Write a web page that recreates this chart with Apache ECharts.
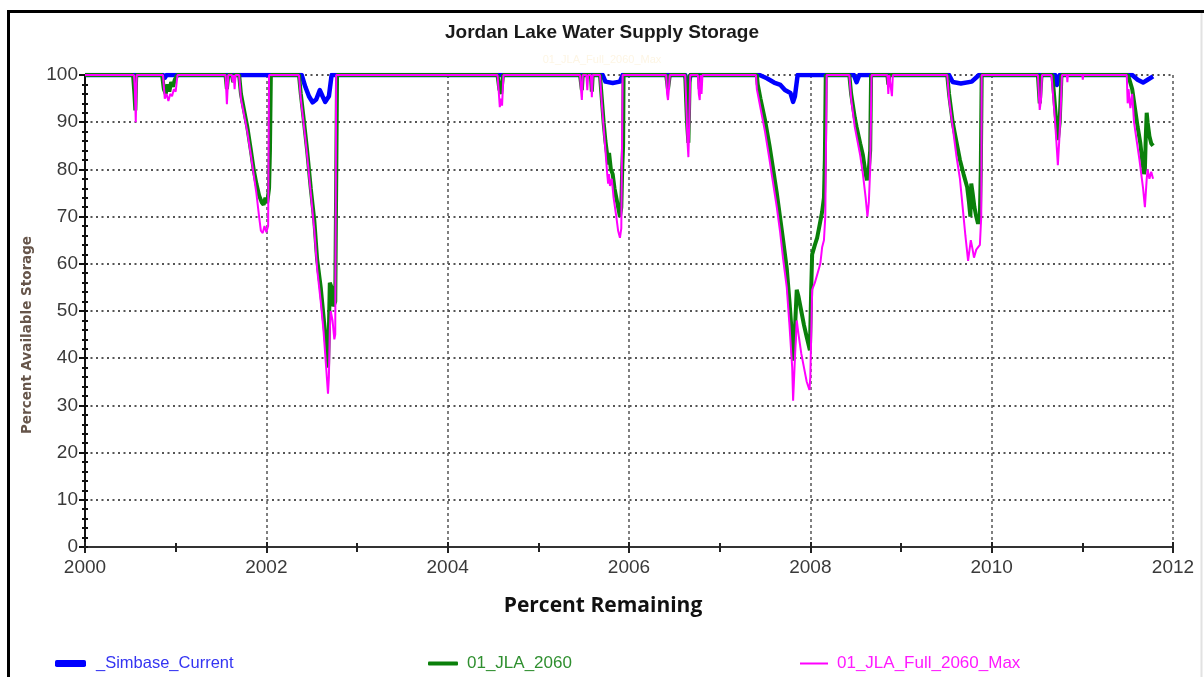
<!DOCTYPE html>
<html>
<head>
<meta charset="utf-8">
<title>Jordan Lake Water Supply Storage</title>
<script src="https://cdn.jsdelivr.net/npm/echarts@6/dist/echarts.min.js"></script>
<style>
  html, body { margin: 0; padding: 0; background: #ffffff; }
  #chart { width: 1204px; height: 677px; }
</style>
</head>
<body>
<div id="chart"></div>
<script>
// Percent of available water-supply storage over time, [decimal year, percent]
const simbaseCurrent = [
  [2000.00, 100], [2000.86, 100], [2000.88, 99.4], [2000.90, 100],
  [2002.39, 100], [2002.43, 97.5], [2002.47, 95.5], [2002.51, 94.2], [2002.55, 94.8],
  [2002.59, 96.8], [2002.62, 95.5], [2002.65, 94.3], [2002.69, 95.5], [2002.72, 100],
  [2005.71, 100], [2005.74, 98.6], [2005.82, 98.3], [2005.90, 98.6], [2005.93, 100],
  [2006.62, 100], [2006.65, 97.8], [2006.68, 100],
  [2007.44, 100], [2007.52, 99.3], [2007.60, 98.4], [2007.67, 97.9], [2007.72, 96.8],
  [2007.78, 96.2], [2007.81, 94.3], [2007.83, 95.5], [2007.86, 100],
  [2008.48, 100], [2008.51, 98.5], [2008.54, 100],
  [2009.53, 100], [2009.57, 98.5], [2009.66, 98.2], [2009.78, 98.6], [2009.86, 100],
  [2010.70, 100], [2010.72, 97.9], [2010.75, 100],
  [2011.55, 100], [2011.61, 99.0], [2011.67, 98.4], [2011.72, 99.0], [2011.78, 99.7]
];

const jla2060 = [
  [2000.00, 100], [2000.53, 100], [2000.545, 96], [2000.555, 92.5], [2000.565, 100],
  [2000.85, 100], [2000.87, 97], [2000.89, 96], [2000.91, 98], [2000.93, 96.5],
  [2000.95, 98.5], [2000.97, 97.5], [2000.99, 99], [2001.02, 100],
  [2001.55, 100], [2001.565, 97], [2001.58, 100], [2001.62, 100], [2001.635, 98.5], [2001.65, 100],
  [2001.70, 100], [2001.72, 96], [2001.76, 92], [2001.79, 89], [2001.83, 84], [2001.86, 80],
  [2001.89, 77], [2001.92, 74.5], [2001.95, 73], [2001.97, 72.5], [2001.99, 74], [2002.01, 73],
  [2002.03, 76], [2002.04, 84], [2002.05, 100],
  [2002.36, 100], [2002.38, 96], [2002.41, 91], [2002.45, 84], [2002.49, 76], [2002.53, 69],
  [2002.56, 61], [2002.60, 55], [2002.63, 49], [2002.66, 43], [2002.68, 38], [2002.69, 46],
  [2002.70, 56], [2002.72, 55], [2002.74, 51], [2002.76, 52], [2002.77, 76], [2002.78, 100],
  [2004.55, 100], [2004.57, 97], [2004.59, 96], [2004.61, 100],
  [2005.46, 100], [2005.48, 96.8], [2005.49, 100], [2005.58, 100], [2005.59, 96.5], [2005.60, 100],
  [2005.68, 100], [2005.70, 95], [2005.72, 90], [2005.74, 86], [2005.76, 83], [2005.77, 81],
  [2005.78, 83.5], [2005.80, 80], [2005.82, 79], [2005.84, 76], [2005.87, 73], [2005.90, 70],
  [2005.915, 72], [2005.925, 80], [2005.935, 85], [2005.94, 100],
  [2006.41, 100], [2006.43, 97], [2006.45, 100],
  [2006.62, 100], [2006.64, 90], [2006.655, 85.6], [2006.67, 100],
  [2006.77, 100], [2006.78, 97], [2006.79, 100],
  [2007.41, 100], [2007.42, 98], [2007.45, 95], [2007.50, 90.5], [2007.55, 85], [2007.59, 80],
  [2007.63, 75], [2007.665, 70], [2007.70, 65], [2007.74, 59], [2007.77, 52], [2007.80, 44],
  [2007.81, 39.5], [2007.83, 46], [2007.85, 54.5], [2007.87, 53], [2007.90, 50], [2007.93, 47],
  [2007.96, 44.5], [2007.995, 41.7], [2008.01, 55], [2008.02, 62], [2008.05, 64], [2008.075, 65.5],
  [2008.10, 68], [2008.13, 71], [2008.15, 74], [2008.16, 82], [2008.17, 100],
  [2008.43, 100], [2008.45, 96], [2008.49, 91], [2008.51, 89], [2008.55, 85.5], [2008.58, 83],
  [2008.61, 79], [2008.625, 77.7], [2008.645, 80], [2008.66, 84], [2008.67, 100],
  [2008.85, 100], [2008.86, 98], [2008.87, 100],
  [2009.51, 100], [2009.53, 96], [2009.57, 90], [2009.61, 86], [2009.65, 82], [2009.69, 79],
  [2009.73, 76.2], [2009.75, 73], [2009.765, 70], [2009.775, 77], [2009.79, 75], [2009.81, 72],
  [2009.83, 70], [2009.85, 68.5], [2009.87, 70], [2009.88, 80], [2009.89, 100],
  [2010.51, 100], [2010.53, 94], [2010.55, 100],
  [2010.67, 100], [2010.70, 93], [2010.73, 86.2], [2010.75, 90], [2010.77, 100],
  [2011.50, 100], [2011.52, 99], [2011.55, 97], [2011.58, 93], [2011.61, 89], [2011.64, 85.5],
  [2011.66, 82], [2011.68, 79], [2011.69, 80], [2011.70, 87], [2011.71, 92], [2011.72, 90],
  [2011.74, 87], [2011.76, 85.5], [2011.78, 85]
];

const jlaFull2060Max = [
  [2000.00, 100], [2000.54, 100], [2000.55, 97], [2000.56, 90], [2000.57, 100],
  [2000.86, 100], [2000.88, 95], [2000.90, 96], [2000.92, 94.5], [2000.94, 96],
  [2000.96, 95.5], [2000.98, 97], [2001.00, 96.5], [2001.02, 100],
  [2001.55, 100], [2001.565, 93.8], [2001.58, 100], [2001.62, 100], [2001.63, 98.5],
  [2001.64, 100], [2001.65, 97], [2001.66, 100],
  [2001.70, 100], [2001.72, 95], [2001.76, 91], [2001.79, 88], [2001.83, 83], [2001.86, 79],
  [2001.89, 75], [2001.92, 70], [2001.94, 67], [2001.96, 66.5], [2001.98, 68], [2002.00, 66.7],
  [2002.02, 68], [2002.03, 100],
  [2002.36, 100], [2002.38, 95], [2002.41, 90], [2002.45, 83], [2002.49, 75], [2002.53, 67],
  [2002.56, 59], [2002.60, 52], [2002.63, 46], [2002.66, 38], [2002.68, 32.5], [2002.69, 36],
  [2002.70, 46], [2002.71, 50], [2002.73, 48], [2002.75, 44], [2002.76, 45], [2002.77, 100],
  [2004.55, 100], [2004.565, 96], [2004.575, 93.2], [2004.59, 95], [2004.60, 93.5], [2004.615, 100],
  [2005.46, 100], [2005.47, 97], [2005.48, 94.7], [2005.49, 100], [2005.53, 100], [2005.54, 96.8],
  [2005.55, 100], [2005.58, 100], [2005.59, 95.3], [2005.60, 100],
  [2005.68, 100], [2005.70, 94], [2005.72, 89], [2005.74, 84], [2005.76, 79], [2005.77, 77],
  [2005.78, 79], [2005.79, 76.5], [2005.81, 78], [2005.83, 74], [2005.86, 70], [2005.88, 67],
  [2005.90, 65.5], [2005.915, 67.5], [2005.93, 100],
  [2006.41, 100], [2006.42, 96], [2006.43, 94.7], [2006.44, 97], [2006.45, 100],
  [2006.62, 100], [2006.635, 92], [2006.645, 86], [2006.655, 82.6], [2006.665, 90], [2006.675, 100],
  [2006.76, 100], [2006.77, 96], [2006.78, 94.7], [2006.79, 100], [2006.80, 96], [2006.81, 100],
  [2007.40, 100], [2007.41, 97], [2007.45, 93], [2007.50, 88], [2007.55, 82], [2007.59, 77],
  [2007.63, 72], [2007.665, 67], [2007.70, 61], [2007.74, 55], [2007.77, 47], [2007.80, 38],
  [2007.81, 31], [2007.83, 40], [2007.85, 48], [2007.87, 45], [2007.90, 41], [2007.93, 38],
  [2007.96, 35], [2007.99, 33.3], [2008.00, 36], [2008.02, 54.5], [2008.05, 56], [2008.08, 58],
  [2008.11, 60], [2008.13, 63.5], [2008.15, 65], [2008.165, 70], [2008.18, 100],
  [2008.43, 100], [2008.45, 95], [2008.49, 89], [2008.51, 87], [2008.55, 83], [2008.58, 79],
  [2008.61, 74], [2008.63, 70], [2008.645, 73], [2008.66, 80], [2008.675, 100],
  [2008.85, 100], [2008.86, 96], [2008.87, 100], [2008.89, 100], [2008.90, 95.5], [2008.91, 100],
  [2009.51, 100], [2009.53, 95], [2009.57, 89], [2009.61, 83], [2009.65, 78], [2009.68, 72],
  [2009.71, 66], [2009.74, 60.6], [2009.77, 65], [2009.79, 63], [2009.805, 61.3], [2009.83, 63],
  [2009.85, 62.8], [2009.87, 64], [2009.885, 70], [2009.89, 100],
  [2010.51, 100], [2010.52, 96], [2010.53, 92.6], [2010.545, 95], [2010.555, 100],
  [2010.66, 100], [2010.68, 95], [2010.70, 90], [2010.72, 84], [2010.73, 80.9], [2010.745, 86],
  [2010.76, 92], [2010.775, 100], [2010.83, 100], [2010.835, 98.5], [2010.84, 100],
  [2011.00, 100], [2011.005, 99], [2011.01, 100],
  [2011.49, 100], [2011.50, 94], [2011.51, 97], [2011.53, 93], [2011.55, 96], [2011.57, 90],
  [2011.60, 86], [2011.63, 82], [2011.65, 79], [2011.67, 76], [2011.69, 72], [2011.71, 78],
  [2011.72, 80], [2011.74, 78], [2011.76, 79.5], [2011.78, 78]
];

const seriesNames = ['_Simbase_Current', '01_JLA_2060', '01_JLA_Full_2060_Max'];
const seriesColors = ['#0000ff', '#0a800a', '#ff00ff'];
const legendTextColors = ['#3434f2', '#2f8f2f', '#ff1aff'];

const yearMin = 2000, yearMax = 2012, yearStep = 2;
const pctMin = 0, pctMax = 100, pctStep = 10;

const narrowFont = "'Liberation Sans Narrow', 'Arial Narrow', 'Liberation Sans', Arial, sans-serif";
const tickColor = '#3a3a3a';

const chart = echarts.init(document.getElementById('chart'), null, { renderer: 'canvas' });

const gridBox = { left: 85, right: 31, top: 75, bottom: 130 };

const option = {
  animation: false,
  backgroundColor: '#ffffff',
  title: {
    text: 'Jordan Lake Water Supply Storage',
    left: 'center',
    top: 18,
    textStyle: { fontFamily: "'Liberation Sans', Arial, sans-serif", fontWeight: 'bold', fontSize: 19, color: '#1a1a1a' }
  },
  grid: gridBox,
  legend: [
    {
      data: [seriesNames[0]], left: 50, top: 650, icon: 'roundRect', itemWidth: 31, itemHeight: 7,
      textStyle: { color: legendTextColors[0], fontFamily: narrowFont, fontSize: 16.5, padding: [0, 0, 0, 5] }
    },
    {
      data: [seriesNames[1]], left: 423, top: 650, icon: 'roundRect', itemWidth: 30, itemHeight: 4,
      textStyle: { color: legendTextColors[1], fontFamily: narrowFont, fontSize: 17, padding: [0, 0, 0, 4] }
    },
    {
      data: [seriesNames[2]], left: 795, top: 650, icon: 'rect', itemWidth: 28, itemHeight: 2,
      textStyle: { color: legendTextColors[2], fontFamily: narrowFont, fontSize: 17, padding: [0, 0, 0, 4] }
    }
  ],
  xAxis: [
    {
      type: 'value', min: yearMin, max: yearMax, interval: yearStep,
      name: 'Percent Remaining', nameLocation: 'middle', nameGap: 49,
      nameTextStyle: {
        fontFamily: "'Open Sans', sans-serif", fontWeight: 'bold', fontSize: 21, color: '#111',
        padding: [0, 52, 0, 0]
      },
      axisLine: { show: true, lineStyle: { color: '#333', width: 2 } },
      axisTick: { show: true, length: 6, lineStyle: { color: '#222', width: 2 } },
      minorTick: { show: true, splitNumber: 2, length: 5, lineStyle: { color: '#222', width: 2 } },
      axisLabel: {
        margin: 11, fontFamily: narrowFont, fontSize: 19, color: tickColor,
        formatter: v => String(v)
      },
      splitLine: { show: true, lineStyle: { color: '#555', width: 1.5, type: [3, 3] } }
    },
    {
      type: 'value', min: yearMin, max: yearMax, interval: yearStep, position: 'bottom',
      axisLine: { show: false },
      axisTick: { show: true, inside: true, length: 5, lineStyle: { color: '#222', width: 2 } },
      minorTick: { show: true, splitNumber: 2, length: 4, lineStyle: { color: '#222', width: 2 } },
      axisLabel: { show: false },
      splitLine: { show: false }
    }
  ],
  yAxis: [
    {
      type: 'value', min: pctMin, max: pctMax, interval: pctStep,
      axisLine: { show: true, lineStyle: { color: '#111', width: 2 } },
      axisTick: { show: true, length: 6, lineStyle: { color: '#111', width: 2 } },
      minorTick: { show: true, splitNumber: 5, length: 3, lineStyle: { color: '#111', width: 2 } },
      axisLabel: { margin: 7, fontFamily: narrowFont, fontSize: 19, color: tickColor },
      splitLine: { show: true, lineStyle: { color: '#555', width: 2, type: [2, 3.5] } }
    },
    {
      type: 'value', min: pctMin, max: pctMax, interval: pctStep, position: 'left',
      axisLine: { show: false },
      axisTick: { show: true, inside: true, length: 3, lineStyle: { color: '#111', width: 2 } },
      minorTick: { show: true, splitNumber: 5, length: 3, lineStyle: { color: '#111', width: 2 } },
      axisLabel: { show: false },
      splitLine: { show: false }
    }
  ],
  series: [
    {
      name: seriesNames[0], type: 'line', data: simbaseCurrent, color: seriesColors[0],
      showSymbol: false, symbol: 'none', z: 2,
      lineStyle: { width: 4.5, color: seriesColors[0], join: 'round' }
    },
    {
      name: seriesNames[1], type: 'line', data: jla2060, color: seriesColors[1],
      showSymbol: false, symbol: 'none', z: 3,
      lineStyle: { width: 4, color: seriesColors[1] }
    },
    {
      name: seriesNames[2], type: 'line', data: jlaFull2060Max, color: seriesColors[2],
      showSymbol: false, symbol: 'none', z: 4,
      lineStyle: { width: 2, color: seriesColors[2] }
    }
  ],
  graphic: [
    // frame around the chart panel
    { type: 'line', silent: true, shape: { x1: 8.5, y1: 11.5, x2: 8.5, y2: 677 }, style: { stroke: '#000', lineWidth: 3 } },
    { type: 'line', silent: true, shape: { x1: 7, y1: 11.5, x2: 1204, y2: 11.5 }, style: { stroke: '#000', lineWidth: 3 } },
    { type: 'line', silent: true, shape: { x1: 1201.5, y1: 13, x2: 1201.5, y2: 677 }, style: { stroke: '#e2e2e2', lineWidth: 2 } },
    // faded subtitle line beneath the heading
    {
      type: 'text', silent: true, left: 'center', top: 54,
      style: { text: '01_JLA_Full_2060_Max', fill: '#fdf5e4', font: "11px 'Liberation Sans', Arial, sans-serif" }
    },
    // vertical axis title
    {
      type: 'text', silent: true, x: 27, y: 335, rotation: Math.PI / 2,
      style: {
        text: 'Percent Available Storage', fill: '#66554a',
        font: "bold 13.5px 'DejaVu Sans', Verdana, sans-serif",
        align: 'center', verticalAlign: 'middle'
      }
    }
  ]
};

chart.setOption(option);
</script>
</body>
</html>
